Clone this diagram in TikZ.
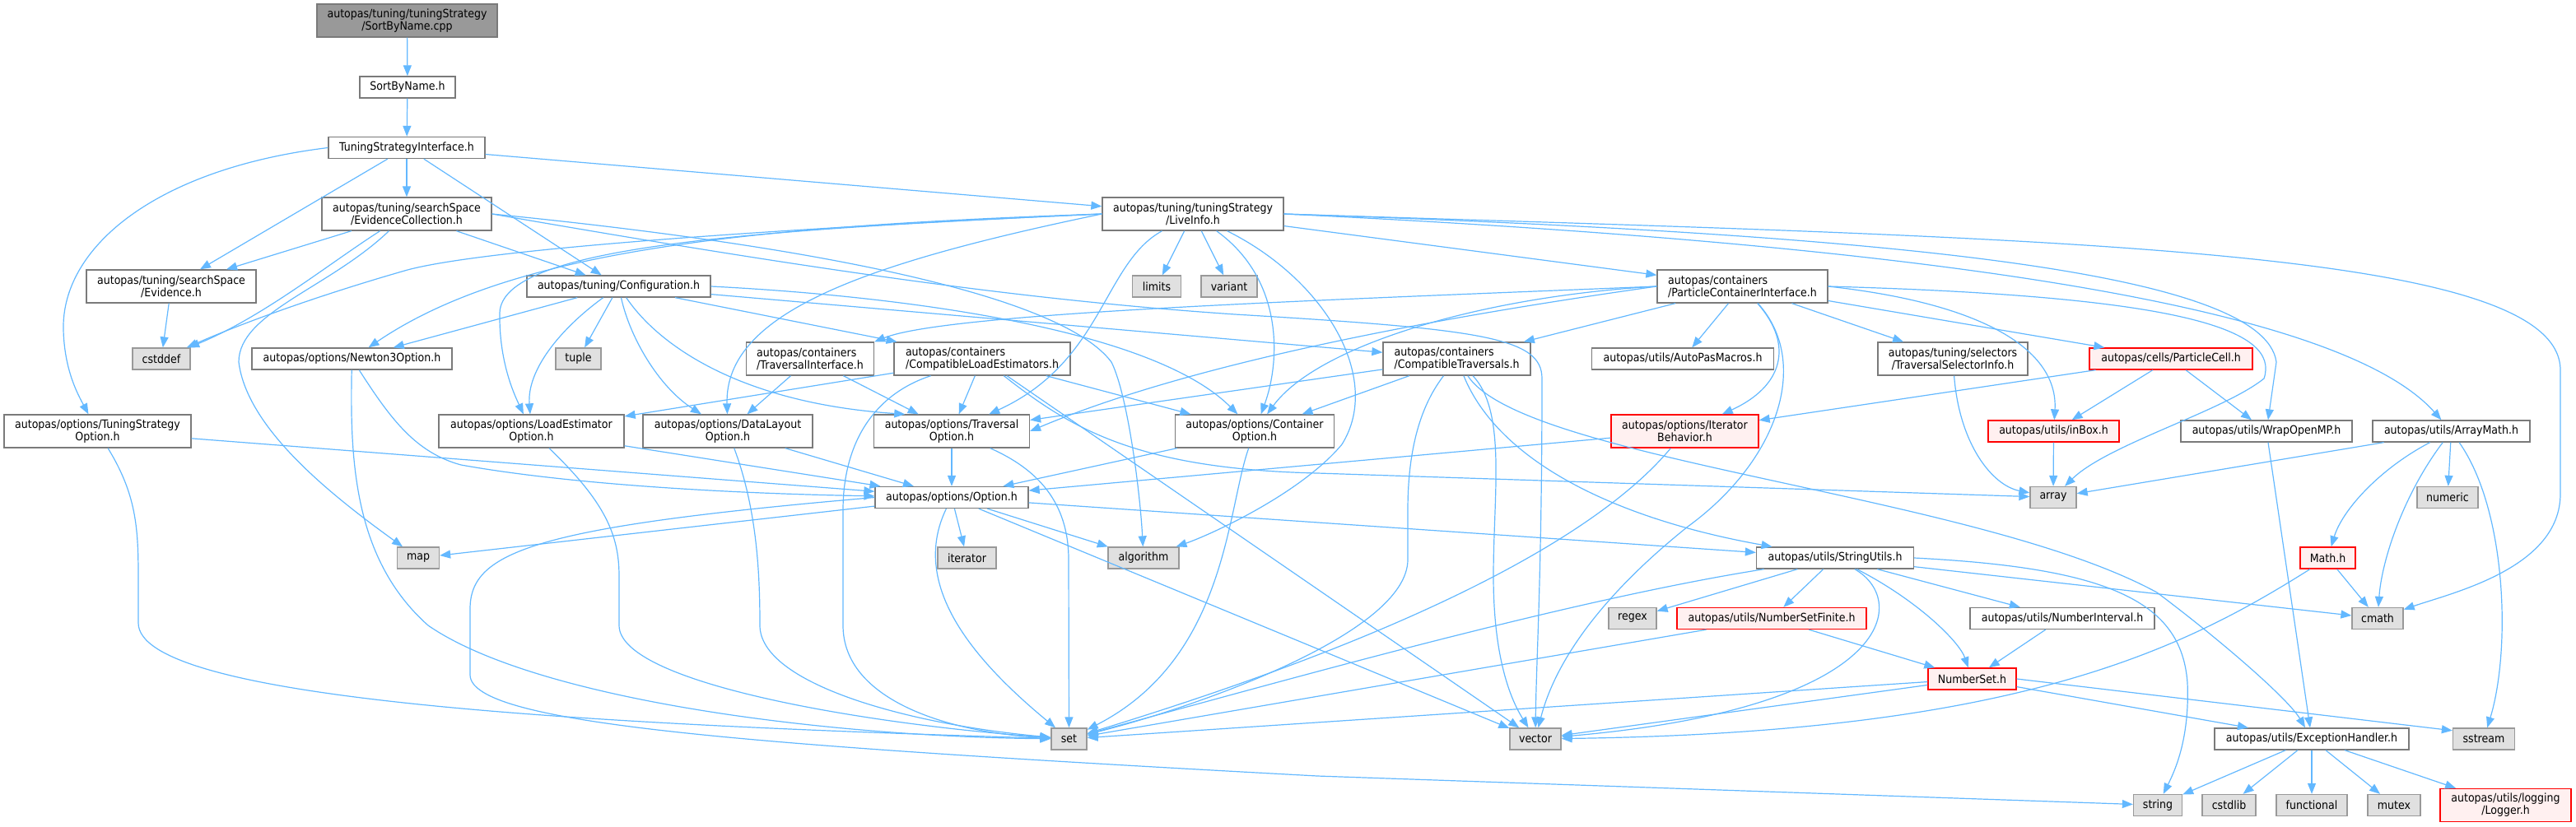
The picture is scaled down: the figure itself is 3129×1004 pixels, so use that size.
\documentclass[tikz,border=0pt]{standalone}
\usepackage{fontspec}
\setmainfont{DejaVu Sans}[FakeStretch=0.9]
\usetikzlibrary{arrows.meta}

\definecolor{edgeblue}{HTML}{63B8FF}
\definecolor{boxgrey}{HTML}{7A7A7A}
\definecolor{sysgrey}{HTML}{999999}
\definecolor{sysfill}{HTML}{E0E0E0}
\definecolor{redfill}{HTML}{FFF0F0}

\begin{document}
\begin{tikzpicture}[
    x=1pt, y=-1pt,
    every node/.style={font=\fontsize{14}{15}\selectfont, inner sep=0pt, align=center, minimum height=26pt},
    hfile/.style={draw=boxgrey, fill=white, line width=1.3pt},
    rootfile/.style={draw=boxgrey, fill=sysgrey, line width=1.3pt},
    sysfile/.style={draw=sysgrey, fill=sysfill, line width=1.3pt},
    redfile/.style={draw=red, fill=redfill, line width=1.3pt},
    twoline/.style={minimum height=40pt},
    incl/.style={draw=edgeblue, line width=1.2pt, -{Triangle[length=13pt,width=10pt]}}
]
\useasboundingbox (0,0) rectangle (3129,1004);

\node[rootfile, twoline, minimum width=219pt] (root) at (494.5,25) {autopas/tuning/tuningStrategy\\/SortByName.cpp};
\node[hfile, minimum width=116pt] (sortbyname) at (495,106) {SortByName.h};
\node[hfile, minimum width=190pt] (tsi) at (494,179.5) {TuningStrategyInterface.h};
\node[hfile, twoline, minimum width=206pt] (evcoll) at (494,260) {autopas/tuning/searchSpace\\/EvidenceCollection.h};
\node[hfile, twoline, minimum width=220pt] (liveinfo) at (1449,260) {autopas/tuning/tuningStrategy\\/LiveInfo.h};
\node[hfile, twoline, minimum width=206pt] (evidence) at (208,348) {autopas/tuning/searchSpace\\/Evidence.h};
\node[hfile, minimum width=223pt] (config) at (751.5,348) {autopas/tuning/Configuration.h};
\node[sysfile, minimum width=59pt] (limits) at (1405,348) {limits};
\node[sysfile, minimum width=68pt] (variant) at (1493,348) {variant};
\node[hfile, twoline, align=left, minimum width=207pt] (pci) at (2116.5,348) {autopas/containers\\/ParticleContainerInterface.h};
\node[sysfile, minimum width=70pt] (cstddef) at (196,436) {cstddef};
\node[hfile, minimum width=243pt] (newton3) at (427.5,436) {autopas/options/Newton3Option.h};
\node[sysfile, minimum width=55pt] (tuple) at (702.5,436) {tuple};
\node[hfile, twoline, align=left, minimum width=155pt] (travif) at (984,436) {autopas/containers\\/TraversalInterface.h};
\node[hfile, twoline, align=left, minimum width=214pt] (compload) at (1193,436) {autopas/containers\\/CompatibleLoadEstimators.h};
\node[hfile, twoline, align=left, minimum width=179pt] (comptrav) at (1769.5,436) {autopas/containers\\/CompatibleTraversals.h};
\node[hfile, minimum width=221pt] (macros) at (2044,436) {autopas/utils/AutoPasMacros.h};
\node[hfile, twoline, minimum width=182pt] (selinfo) at (2372,436) {autopas/tuning/selectors\\/TraversalSelectorInfo.h};
\node[redfile, minimum width=198pt] (pcell) at (2637,436) {autopas/cells/ParticleCell.h};
\node[hfile, twoline, minimum width=227pt] (tsopt) at (118.5,524) {autopas/options/TuningStrategy\\Option.h};
\node[hfile, twoline, minimum width=225pt] (loadopt) at (645.5,524) {autopas/options/LoadEstimator\\Option.h};
\node[hfile, twoline, minimum width=206pt] (dlopt) at (884,524) {autopas/options/DataLayout\\Option.h};
\node[hfile, twoline, minimum width=189pt] (travopt) at (1156,524) {autopas/options/Traversal\\Option.h};
\node[hfile, twoline, minimum width=193pt] (contopt) at (1524,524) {autopas/options/Container\\Option.h};
\node[redfile, twoline, minimum width=179pt] (iterbeh) at (2046.5,524) {autopas/options/Iterator\\Behavior.h};
\node[redfile, minimum width=159pt] (inbox) at (2494.5,524) {autopas/utils/inBox.h};
\node[hfile, minimum width=208pt] (wrapomp) at (2753,524) {autopas/utils/WrapOpenMP.h};
\node[hfile, minimum width=191pt] (arraymath) at (2977.5,524) {autopas/utils/ArrayMath.h};
\node[hfile, minimum width=186pt] (option) at (1156,604.5) {autopas/options/Option.h};
\node[sysfile, minimum width=56pt] (array) at (2494,604.5) {array};
\node[sysfile, minimum width=74pt] (numeric) at (2973,604.5) {numeric};
\node[sysfile, minimum width=51pt] (map) at (508,678) {map};
\node[sysfile, minimum width=71pt] (iterator) at (1174.5,678) {iterator};
\node[sysfile, minimum width=86pt] (algorithm) at (1389,678) {algorithm};
\node[hfile, minimum width=191pt] (strutils) at (2229,678) {autopas/utils/StringUtils.h};
\node[redfile, minimum width=67pt] (mathh) at (2827.5,678) {Math.h};
\node[sysfile, minimum width=58pt] (regex) at (1983,751.5) {regex};
\node[redfile, minimum width=230pt] (nsfinite) at (2152,751.5) {autopas/utils/NumberSetFinite.h};
\node[hfile, minimum width=224pt] (ninterval) at (2505,751.5) {autopas/utils/NumberInterval.h};
\node[sysfile, minimum width=62pt] (cmath) at (2888,751.5) {cmath};
\node[redfile, minimum width=107pt] (nset) at (2395.5,825) {NumberSet.h};
\node[sysfile, minimum width=43pt] (set) at (1298.5,898) {set};
\node[sysfile, minimum width=62pt] (vector) at (1865,898) {vector};
\node[hfile, minimum width=236pt] (exchandler) at (2808,898) {autopas/utils/ExceptionHandler.h};
\node[sysfile, minimum width=75pt] (sstream) at (3017,898) {sstream};
\node[sysfile, minimum width=59pt] (string) at (2621,978.5) {string};
\node[sysfile, minimum width=65pt] (cstdlib) at (2707.5,978.5) {cstdlib};
\node[sysfile, minimum width=86pt] (functional) at (2808,978.5) {functional};
\node[sysfile, minimum width=64pt] (mutex) at (2908,978.5) {mutex};
\node[redfile, twoline, minimum width=159pt] (logger) at (3043.5,978.5) {autopas/utils/logging\\/Logger.h};

% top of the graph
\draw[incl] (root) -- (sortbyname);
\draw[incl] (sortbyname) -- (tsi);
\draw[incl] (tsi) -- (evcoll);
\draw[incl] (tsi) -- (evidence);
\draw[incl] (tsi) -- (config);
\draw[incl] (tsi) -- (liveinfo);
\draw[incl] (tsi.west) .. controls (190,205) and (75,300) .. (77,400) .. controls (78,450) and (95,480) .. (tsopt);

\draw[incl] (evcoll) -- (evidence);
\draw[incl] (evcoll) .. controls (400,320) and (320,385) .. (cstddef);
\draw[incl] (evcoll) .. controls (400,350) and (290,380) .. (290,440) .. controls (300,520) and (400,600) .. (map);
\draw[incl] (evcoll) -- (config);
\draw[incl] (evcoll.east) .. controls (1000,300) and (1290,360) .. (1350,440) .. controls (1370,480) and (1385,600) .. (algorithm);
\draw[incl] (evcoll.east) .. controls (1000,330) and (1250,365) .. (1500,382) .. controls (1800,400) and (1873,410) .. (1873,460) .. controls (1873,700) and (1866,800) .. (vector);
\draw[incl] (evidence) -- (cstddef);

\draw[incl] (liveinfo) -- (limits);
\draw[incl] (liveinfo) -- (variant);
\draw[incl] (liveinfo) -- (pci);
\draw[incl] (liveinfo.west) .. controls (1000,275) and (600,300) .. (495,328) .. controls (400,355) and (300,390) .. (cstddef);
\draw[incl] (liveinfo.west) .. controls (900,275) and (620,305) .. (newton3);
\draw[incl] (liveinfo.west) .. controls (900,280) and (610,300) .. (607,380) .. controls (606,440) and (625,480) .. (loadopt);
\draw[incl] (liveinfo.west) .. controls (1050,320) and (880,380) .. (dlopt);
\draw[incl] (liveinfo) .. controls (1340,320) and (1340,440) .. (travopt);
\draw[incl] (liveinfo) .. controls (1560,340) and (1555,440) .. (contopt);
\draw[incl] (liveinfo) .. controls (1610,340) and (1680,460) .. (1630,540) .. controls (1580,600) and (1470,650) .. (algorithm);
\draw[incl] (liveinfo.east) .. controls (2500,290) and (3110,300) .. (3110,450) -- (3110,600) .. controls (3110,690) and (2980,720) .. (cmath);
\draw[incl] (liveinfo.east) .. controls (2300,285) and (2750,330) .. (2765,440) -- (wrapomp);
\draw[incl] (liveinfo.east) .. controls (2400,300) and (2850,380) .. (arraymath);

\draw[incl] (config) -- (newton3);
\draw[incl] (config) -- (tuple);
\draw[incl] (config) .. controls (680,400) and (640,450) .. (loadopt);
\draw[incl] (config) .. controls (765,410) and (800,470) .. (dlopt);
\draw[incl] (config) .. controls (800,420) and (900,490) .. (travopt.160);
\draw[incl] (config) -- (compload);
\draw[incl] (config) -- (comptrav);
\draw[incl] (config.east) .. controls (1100,360) and (1400,400) .. (contopt);

\draw[incl] (pci.west) .. controls (1600,365) and (1150,380) .. (travif.north east);
\draw[incl] (pci) -- (comptrav);
\draw[incl] (pci) -- (macros);
\draw[incl] (pci) -- (selinfo);
\draw[incl] (pci) -- (pcell);
\draw[incl] (pci.west) .. controls (1750,385) and (1450,440) .. (travopt.east);
\draw[incl] (pci.west) .. controls (1800,360) and (1600,420) .. (contopt);
\draw[incl] (pci) .. controls (2180,420) and (2165,470) .. (iterbeh);
\draw[incl] (pci) .. controls (2200,440) and (2160,560) .. (2050,640) .. controls (1950,720) and (1890,800) .. (vector);
\draw[incl] (pci.east) .. controls (2420,370) and (2500,430) .. (inbox);
\draw[incl] (pci.east) .. controls (2650,360) and (2770,400) .. (2750,460) .. controls (2700,500) and (2560,540) .. (array);

\draw[incl] (travif) -- (dlopt);
\draw[incl] (travif) -- (travopt);
\draw[incl] (compload) -- (loadopt);
\draw[incl] (compload) -- (travopt);
\draw[incl] (compload) -- (contopt);
\draw[incl] (compload) -- (vector);
\draw[incl] (compload) .. controls (1060,480) and (1024,540) .. (1024,620) -- (1024,760) .. controls (1024,850) and (1150,890) .. (set);
\draw[incl] (compload) .. controls (1300,520) and (1380,570) .. (1600,575) -- (array);

\draw[incl] (comptrav) -- (travopt);
\draw[incl] (comptrav) -- (contopt);
\draw[incl] (comptrav) .. controls (1720,500) and (1710,560) .. (1710,620) -- (1710,680) .. controls (1710,770) and (1450,860) .. (set);
\draw[incl] (comptrav) .. controls (1820,560) and (1960,630) .. (strutils);
\draw[incl] (comptrav) .. controls (1830,500) and (1814,600) .. (1814,700) .. controls (1814,800) and (1835,850) .. (vector);
\draw[incl] (comptrav) .. controls (1850,560) and (2400,600) .. (2620,720) .. controls (2700,780) and (2780,850) .. (exchandler);

\draw[incl] (pcell) -- (iterbeh);
\draw[incl] (pcell) -- (inbox);
\draw[incl] (pcell) -- (wrapomp);
\draw[incl] (selinfo) .. controls (2380,540) and (2420,590) .. (array);
\draw[incl] (inbox) -- (array);
\draw[incl] (wrapomp) -- (exchandler);

\draw[incl] (arraymath) -- (array);
\draw[incl] (arraymath) -- (numeric);
\draw[incl] (arraymath) .. controls (2890,570) and (2845,620) .. (mathh);
\draw[incl] (arraymath) .. controls (2920,600) and (2893,680) .. (cmath);
\draw[incl] (arraymath) .. controls (3045,620) and (3050,790) .. (sstream);
\draw[incl] (mathh) -- (cmath);
\draw[incl] (mathh) .. controls (2650,790) and (2450,890) .. (vector);

% options
\draw[incl] (tsopt) -- (option);
\draw[incl] (tsopt) .. controls (165,600) and (168,640) .. (168,700) -- (168,757) .. controls (168,850) and (700,880) .. (set);
\draw[incl] (newton3) .. controls (475,510) and (505,550) .. (560,565) .. controls (700,590) and (900,600) .. (option);
\draw[incl] (newton3) .. controls (425,560) and (430,680) .. (520,760) .. controls (650,850) and (1000,895) .. (set);
\draw[incl] (loadopt) -- (option);
\draw[incl] (loadopt) .. controls (735,610) and (752,650) .. (752,700) -- (752,760) .. controls (752,830) and (1050,880) .. (set);
\draw[incl] (dlopt) -- (option);
\draw[incl] (dlopt) .. controls (920,620) and (923,700) .. (923,760) .. controls (923,830) and (1100,880) .. (set);
\draw[incl] (travopt) -- (option);
\draw[incl] (travopt) .. controls (1260,570) and (1298,610) .. (1298,680) -- (set);
\draw[incl] (contopt) -- (option);
\draw[incl] (contopt) .. controls (1490,620) and (1490,800) .. (set);
\draw[incl] (iterbeh) -- (option);
\draw[incl] (iterbeh) .. controls (1950,640) and (1750,760) .. (set);

\draw[incl] (option) -- (map);
\draw[incl] (option) -- (iterator);
\draw[incl] (option) -- (algorithm);
\draw[incl] (option) .. controls (1105,710) and (1180,800) .. (set);
\draw[incl] (option) -- (vector);
\draw[incl] (option) -- (strutils);
\draw[incl] (option.west) .. controls (650,640) and (571,670) .. (571,740) -- (571,820) .. controls (571,880) and (900,905) .. (1600,943) -- (string);

% utils
\draw[incl] (strutils) -- (regex);
\draw[incl] (strutils) -- (nsfinite);
\draw[incl] (strutils) -- (ninterval);
\draw[incl] (strutils) -- (cmath);
\draw[incl] (strutils) .. controls (2330,730) and (2380,780) .. (nset);
\draw[incl] (strutils) .. controls (1900,730) and (1550,830) .. (set);
\draw[incl] (strutils) .. controls (2320,730) and (2300,860) .. (vector);
\draw[incl] (strutils.east) .. controls (2560,690) and (2650,730) .. (2657,830) .. controls (2660,900) and (2640,940) .. (string);
\draw[incl] (nsfinite) -- (set);
\draw[incl] (nsfinite) -- (nset);
\draw[incl] (ninterval) -- (nset);
\draw[incl] (nset) -- (set);
\draw[incl] (nset) -- (vector);
\draw[incl] (nset.east) -- (sstream.165);
\draw[incl] (nset) -- (exchandler);

\draw[incl] (exchandler) -- (string);
\draw[incl] (exchandler) -- (cstdlib);
\draw[incl] (exchandler) -- (functional);
\draw[incl] (exchandler) -- (mutex);
\draw[incl] (exchandler) -- (logger);
\end{tikzpicture}
\end{document}
